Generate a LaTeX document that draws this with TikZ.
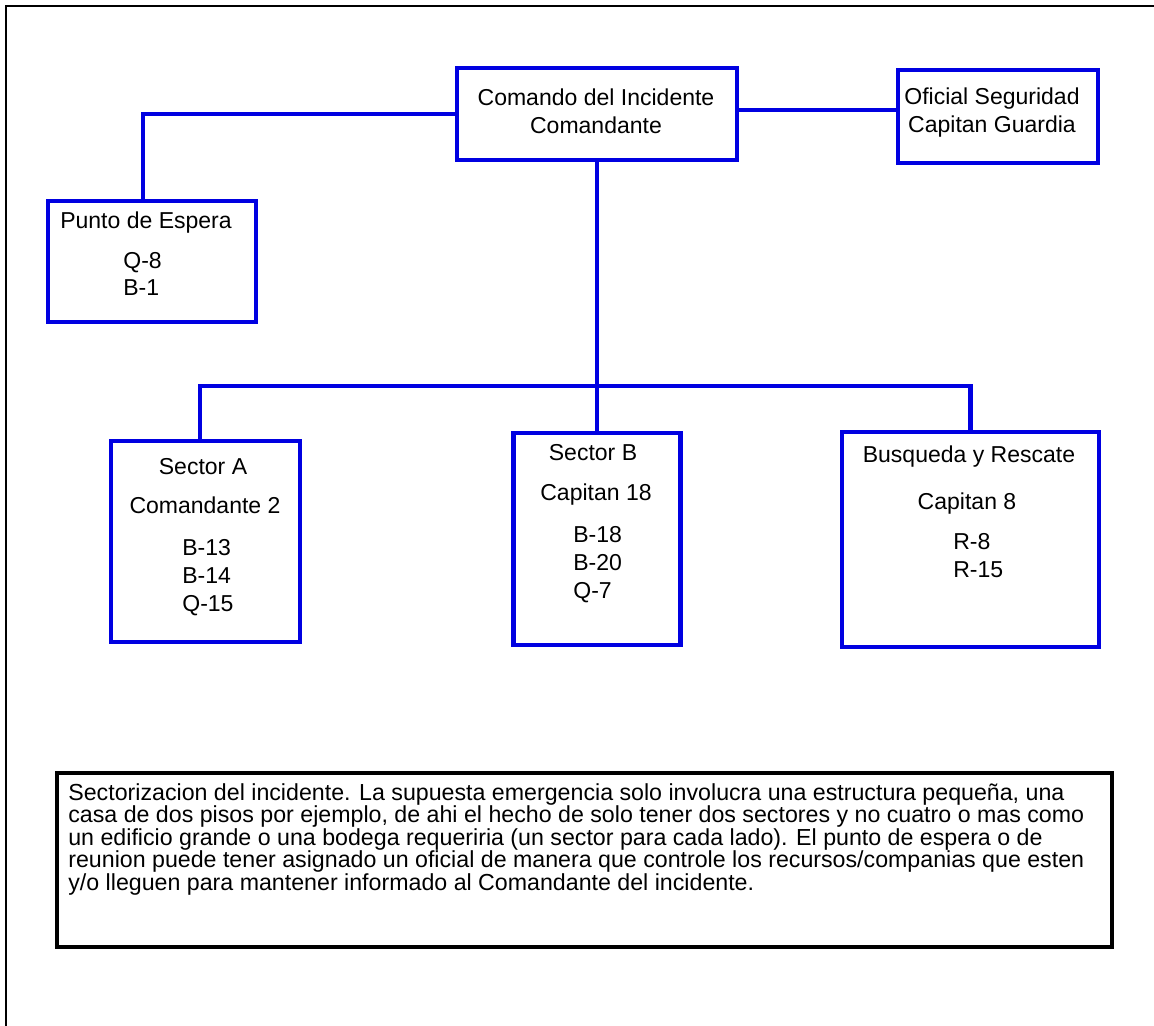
\documentclass[tikz,border=0pt]{standalone}
\usepackage{fontspec}
\setmainfont{Liberation Sans}
\usepackage{xcolor}
\usepackage{tikz}
\definecolor{orgblue}{RGB}{0,0,225}

\begin{document}
\begin{tikzpicture}[x=0.02cm,y=-0.02cm,
  box/.style 2 args={draw=orgblue,line width=2.8pt,inner sep=0pt,
    minimum width=#1*0.02cm,minimum height=#2*0.02cm},
  link/.style={draw=orgblue,line width=2.6pt},
  lbl/.style={inner sep=0pt,font=\fontsize{13.1}{15.9}\selectfont},
  lst/.style={lbl,align=left,anchor=west}]
  \useasboundingbox (0,0) rectangle (1154,1026);
  \draw[line width=1.4pt] (6,1040) -- (6,6) -- (1170,6);

  \node[box={280}{92}] (cmd) at (597,114) {};
  \node[box={200}{93}] (seg) at (998,116.5) {};
  \node[box={208}{121}] (esp) at (152,261.5) {};
  \node[box={189}{201}] (sa) at (205.5,541.5) {};
  \node[box={167}{212}] (sb) at (597,539) {};
  \node[box={257}{215}] (rb) at (970.5,539.5) {};

  \node[lbl,align=center] (cmdt) at (596,111) {Comando del Incidente\\Comandante};
  \node[lbl,align=center] (segt) at (992,113) {Oficial Seguridad\\Capitan Guardia};
  \node[lbl] (espt) at (146,223) {Punto de Espera};
  \node[lst] (espu) at (123,274) {Q-8\\B-1};
  \node[lbl] (sat) at (203,467) {Sector A};
  \node[lbl] (saj) at (205,505) {Comandante 2};
  \node[lst] (sau) at (182,578) {B-13\\B-14\\Q-15};
  \node[lbl] (sbt) at (593,453) {Sector B};
  \node[lbl] (sbj) at (596,495) {Capitan 18};
  \node[lst] (sbu) at (573,565) {B-18\\B-20\\Q-7};
  \node[lbl] (rbt) at (969,457) {Busqueda y Rescate};
  \node[lbl] (rbj) at (967,504) {Capitan 8};
  \node[lst] (rbu) at (953,556) {R-8\\R-15};

  \coordinate (bus) at (597,386);
  \draw[link] (cmd.west) -| ([xshift=-0.18cm]esp.north);
  \draw[link] ([yshift=0.08cm]cmd.east) -- ([yshift=0.08cm]cmd.east -| seg.west);
  \draw[link] (cmd.south) -- (sb.north);
  \draw[link] ([xshift=-0.11cm]sa.north) |- (bus) -| (rb.north);

  \node[draw=black,line width=2.8pt,inner sep=0pt,minimum width=1055*0.02cm,
    minimum height=174*0.02cm] (nota) at (584.5,860) {};
  \node[inner sep=0pt,anchor=north west,align=left,
    font=\fontsize{13.2}{12.8}\selectfont] (notat) at (68,783)
    {Sectorizacion del incidente. La supuesta emergencia solo involucra una estructura pequeña, una\\
     casa de dos pisos por ejemplo, de ahi el hecho de solo tener dos sectores y no cuatro o mas como\\
     un edificio grande o una bodega requeriria (un sector para cada lado). El punto de espera o de\\
     reunion puede tener asignado un oficial de manera que controle los recursos/companias que esten\\
     y/o lleguen para mantener informado al Comandante del incidente.};
\end{tikzpicture}
\end{document}
